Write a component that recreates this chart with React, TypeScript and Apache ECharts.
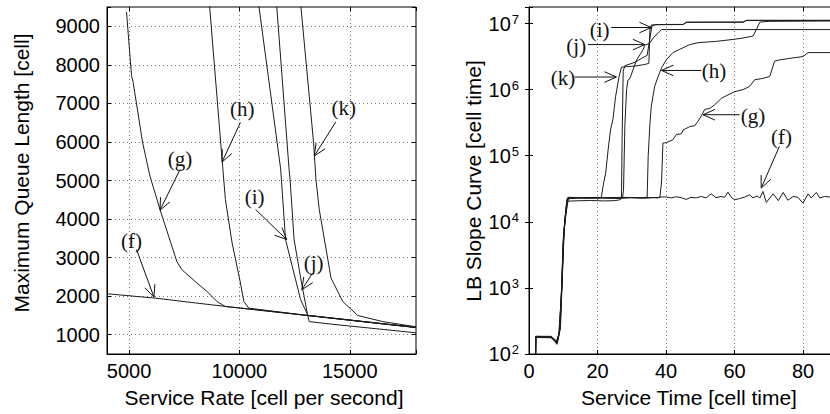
import React, { useEffect, useRef } from 'react';
import * as echarts from 'echarts';

// ---------------- Left panel: Maximum Queue Length vs Service Rate ----------------
const rateMin = 4000;
const rateMax = 18000;
const queueMin = 500;
const queueMax = 9500;

const queueF = [[4000, 2062], [5000, 2010], [6174, 1950], [8000, 1825], [10047, 1689], [12000, 1565], [13087, 1497], [15000, 1375], [18000, 1185]];
const queueG = [[4884, 9370], [5112, 7720], [5185, 7545], [5613, 5984], [5946, 5115], [6402, 4248], [7163, 2902], [7391, 2686], [8074, 2340], [8530, 2122], [8986, 1861], [9364, 1731], [10047, 1693], [13087, 1501], [18000, 1189]];
const queueH = [[8648, 9524], [9213, 5550], [9364, 4508], [9669, 3380], [10047, 2340], [10198, 1861], [10426, 1689], [13087, 1499], [18000, 1187]];
const queueI = [[10882, 9524], [11870, 5289], [11901, 5029], [12090, 3467], [12546, 2426], [12774, 1906], [13056, 1559], [13087, 1505], [15000, 1383], [18000, 1192]];
const queueJ = [[11689, 9524], [12249, 5289], [12294, 5029], [12477, 3467], [12814, 2340], [12932, 1991], [13087, 1515], [13160, 1341], [14150, 1275], [18000, 1050]];
const queueK = [[12782, 9524], [13360, 5984], [13466, 5029], [13617, 4248], [14150, 2470], [14682, 1861], [15366, 1497], [16500, 1340], [18000, 1205]];

// annotation: [labelX, labelY, startX, startY, tipX, tipY]
const leftLabels = ['(f)', '(g)', '(h)', '(k)', '(i)', '(j)'];
const leftArrows = [
  [5112, 3423, 5340, 3207, 6128, 1975],
  [7313, 5549, 7313, 5290, 6402, 4231],
  [10125, 6851, 10047, 6505, 9213, 5479],
  [14728, 6869, 14368, 6520, 13388, 5635],
  [10686, 4579, 10732, 4248, 12144, 3467],
  [13361, 2861, 13315, 2601, 12827, 2166],
];

// ---------------- Right panel: LB Slope Curve vs Service Time ----------------
const timeMin = 0;
const timeMax = 100;
const timeStep = 20;
const timeLabelMax = 80;
const slopeMin = 100;
const slopeMaxExp = 7.25;

const slopeF = [[1.9, 60], [1.95, 185], [6.5, 183], [7.4, 165], [8.2, 150], [9.0, 225], [9.7, 1400], [10.2, 6800], [10.8, 13500], [11.5, 22500], [14, 23000], [18, 22700], [22, 22900], [26, 22600], [30, 23100], [34, 22800], [36, 23300], [37.5, 22900], [38.5, 23800], [40.1, 23700], [41.5, 23000], [43, 24000], [44.4, 23200], [45.9, 21800], [47.3, 23500], [48.8, 23000], [50.3, 24200], [51.7, 23000], [53.2, 26500], [54.6, 23200], [56.1, 24200], [57.1, 23500], [58.1, 28000], [59.1, 23500], [60, 21500], [61.5, 22500], [63, 23700], [64.4, 25600], [65.4, 23000], [66.6, 24600], [67.4, 22900], [68.3, 28800], [69.3, 19700], [71.3, 26500], [72.8, 20900], [74.2, 27800], [75.6, 21200], [77.1, 24200], [78.5, 23500], [80, 19200], [81.5, 26500], [82.4, 22900], [83.9, 27800], [84.9, 22900], [86.3, 24200], [87.8, 23700], [89, 23200], [91, 24500]];
const slopeG = [[1.9, 60], [1.95, 180], [6.5, 180], [7.6, 155], [8.1, 140], [8.6, 190], [9.2, 260], [9.8, 1800], [10.3, 8000], [10.9, 15000], [11.4, 23500], [15, 23200], [20, 23400], [25, 23100], [30, 23300], [35, 23000], [38.2, 23500], [38.7, 40000], [39.1, 155000], [40.1, 158000], [42, 174000], [43, 209000], [44.5, 215000], [45, 245000], [46.9, 275000], [48.4, 285000], [49.3, 331000], [50.3, 398000], [51.3, 501000], [52.8, 520000], [54.2, 589000], [56.2, 741000], [58.1, 832000], [60.1, 933000], [62.5, 1.0e6], [64.4, 1.12e6], [65.9, 1.41e6], [68.3, 1.48e6], [70.3, 1.58e6], [71.7, 2.69e6], [73.2, 2.82e6], [77.1, 3.02e6], [80, 3.16e6], [81.5, 3.63e6], [100, 3.63e6]];
const slopeH = [[1.9, 60], [2.0, 182], [6.6, 178], [7.8, 150], [8.4, 165], [9.1, 240], [9.6, 1100], [10.1, 6000], [10.6, 12500], [11.3, 23000], [16, 23300], [22, 23200], [28, 23400], [32, 23100], [34.5, 23500], [34.8, 100000], [35.3, 300000], [35.7, 560000], [36.7, 1.12e6], [37.7, 1.58e6], [38.7, 2.14e6], [40.1, 2.82e6], [42, 3.63e6], [44, 4.07e6], [46.9, 4.79e6], [49.3, 5.13e6], [54.7, 5.37e6], [59.6, 5.75e6], [62.5, 6.03e6], [65.4, 6.46e6], [66.4, 8.13e6], [67.4, 1.05e7], [70, 1.08e7], [100, 1.1e7]];
const slopeI = [[1.9, 60], [2.0, 178], [6.4, 176], [7.5, 158], [8.3, 145], [8.9, 210], [9.6, 1200], [10.0, 5500], [10.5, 11000], [11.2, 22800], [15, 22900], [20, 23100], [24, 22900], [27.0, 23200], [27.2, 200000], [27.5, 1.9e6], [28, 2.3e6], [31, 2.6e6], [33, 3.0e6], [34.5, 3.3e6], [35.3, 6.0e6], [35.9, 9.2e6], [37, 9.66e6], [45, 9.7e6], [46, 1.05e7], [62.5, 1.05e7], [63.5, 1.12e7], [100, 1.12e7]];
const slopeJ = [[1.9, 60], [2.0, 180], [6.5, 179], [7.5, 160], [8.1, 148], [8.7, 205], [9.4, 700], [9.9, 4000], [10.4, 9500], [11.0, 20500], [14, 20800], [18, 21000], [22, 20700], [25, 20900], [26.5, 21500], [27.3, 23000], [27.6, 30000], [28.0, 300000], [28.5, 1.0e6], [28.9, 1.4e6], [29.4, 1.45e6], [31.4, 2.8e6], [33.3, 4.0e6], [33.8, 4.7e6], [35.2, 5.0e6], [36.2, 6.0e6], [38.2, 7.6e6], [38.7, 8.1e6], [100, 8.1e6]];
const slopeK = [[1.9, 60], [2.0, 185], [6.5, 185], [7.3, 170], [8.0, 158], [8.8, 200], [9.5, 900], [10.0, 4500], [10.5, 10500], [11.1, 22000], [14, 23300], [18, 23000], [21.1, 23200], [21.8, 39000], [22.4, 55000], [23.1, 123000], [23.8, 245000], [24.5, 355000], [25.3, 794000], [26.3, 1.58e6], [27, 2.19e6], [31.4, 2.29e6], [33.8, 2.4e6], [35, 2.5e6], [35.3, 8.0e6], [35.7, 9.5e6], [38, 9.6e6], [45, 9.66e6], [46, 1.04e7], [62.5, 1.05e7], [63.5, 1.11e7], [100, 1.11e7]];

const rightLabels = ['(i)', '(j)', '(k)', '(h)', '(g)', '(f)'];
const rightArrows = [
  [20.6, 8.1e6, 24.0, 8.7e6, 35.7, 8.7e6],
  [13.8, 4.6e6, 17.2, 4.8e6, 33.8, 4.8e6],
  [9.9, 1.5e6, 13.3, 1.55e6, 25.5, 1.55e6],
  [54, 1.9e6, 50.3, 1.95e6, 38.7, 1.95e6],
  [65.4, 4.0e5, 61.5, 4.17e5, 50.8, 4.17e5],
  [73.7, 1.95e5, 73.1, 1.38e5, 67.8, 3.24e4],
];

const SANS = 'Liberation Sans, Arial, Helvetica, sans-serif';
const SERIF = 'Liberation Serif, Times New Roman, serif';
const INK = '#111';

function arrowRenderer(labels: string[]) {
  return (params: any, api: any) => {
    const l = api.coord([api.value(0), api.value(1)]);
    const s = api.coord([api.value(2), api.value(3)]);
    const t = api.coord([api.value(4), api.value(5)]);
    const dx = s[0] - t[0];
    const dy = s[1] - t[1];
    const len = Math.hypot(dx, dy) || 1;
    const ux = dx / len;
    const uy = dy / len;
    const a = 0.42;
    const L = 13;
    const b1 = [t[0] + L * (ux * Math.cos(a) - uy * Math.sin(a)), t[1] + L * (ux * Math.sin(a) + uy * Math.cos(a))];
    const b2 = [t[0] + L * (ux * Math.cos(-a) - uy * Math.sin(-a)), t[1] + L * (ux * Math.sin(-a) + uy * Math.cos(-a))];
    return {
      type: 'group',
      children: [
        { type: 'line', shape: { x1: s[0], y1: s[1], x2: t[0], y2: t[1] }, style: { stroke: INK, lineWidth: 1 } },
        { type: 'polyline', shape: { points: [b1, t, b2] }, style: { stroke: INK, fill: null, lineWidth: 1 } },
        {
          type: 'text',
          x: l[0],
          y: l[1],
          style: { text: labels[params.dataIndex], fontFamily: SERIF, fontSize: 21, fill: INK, align: 'center', verticalAlign: 'middle' },
        },
      ],
    };
  };
}

const dotted = { show: true, lineStyle: { color: '#777', type: [1, 3] as any, width: 1 } };
const axisLineBlack = { show: true, lineStyle: { color: '#000', width: 1 } };
const tickIn = { show: true, inside: true, length: 4, lineStyle: { color: '#000' } };

function lineSeries(data: number[][], xi: number, yi: number) {
  return {
    type: 'line',
    xAxisIndex: xi,
    yAxisIndex: yi,
    data,
    showSymbol: false,
    symbol: 'none',
    clip: true,
    silent: true,
    lineStyle: { color: '#1c1c1c', width: 1 },
  };
}

export default function App() {
  const ref = useRef<HTMLDivElement>(null);
  useEffect(() => {
    if (!ref.current) return;
    const chart = echarts.init(ref.current, undefined, { renderer: 'svg' });
    const option: any = {
      animation: false,
      backgroundColor: '#fff',
      grid: [
        { left: 107, top: 7, width: 309, height: 347, show: true, borderColor: '#000', borderWidth: 1, backgroundColor: 'transparent', containLabel: false, outerBoundsMode: 'none' },
        { left: 529, top: 7, width: 342.5, height: 347, show: true, borderColor: '#000', borderWidth: 1, backgroundColor: 'transparent', containLabel: false, outerBoundsMode: 'none' },
      ],
      xAxis: [
        {
          type: 'value', gridIndex: 0, position: 'bottom', min: rateMin, max: rateMax, splitNumber: 3,
          axisLine: axisLineBlack, axisTick: tickIn, splitLine: dotted,
          axisLabel: { color: '#000', fontFamily: SANS, fontSize: 20, margin: 7, formatter: (v: number) => (v % 5000 === 0 ? String(v) : '') },
        },
        {
          type: 'value', gridIndex: 0, position: 'top', min: rateMin, max: rateMax, splitNumber: 3,
          axisLine: { show: false }, axisTick: tickIn, splitLine: { show: false }, axisLabel: { show: false },
        },
        {
          type: 'value', gridIndex: 1, position: 'bottom', min: timeMin, max: timeMax, interval: timeStep,
          axisLine: axisLineBlack, axisTick: tickIn, splitLine: dotted,
          axisLabel: { color: '#000', fontFamily: SANS, fontSize: 20, margin: 7, formatter: (v: number) => (v <= timeLabelMax ? String(v) : '') },
        },
        {
          type: 'value', gridIndex: 1, position: 'top', min: timeMin, max: timeMax, interval: timeStep,
          axisLine: { show: false }, axisTick: tickIn, splitLine: { show: false }, axisLabel: { show: false },
        },
      ],
      yAxis: [
        {
          type: 'value', gridIndex: 0, position: 'left', min: queueMin, max: queueMax, splitNumber: 9,
          axisLine: axisLineBlack, axisTick: tickIn, splitLine: dotted,
          axisLabel: { color: '#000', fontFamily: SANS, fontSize: 20, margin: 7, formatter: (v: number) => (v % 1000 === 0 ? String(v) : '') },
        },
        {
          type: 'value', gridIndex: 0, position: 'right', min: queueMin, max: queueMax, splitNumber: 9,
          axisLine: { show: false }, axisTick: tickIn, splitLine: { show: false }, axisLabel: { show: false },
        },
        {
          type: 'log', gridIndex: 1, position: 'left', min: slopeMin, max: Math.pow(10, slopeMaxExp), logBase: 10,
          axisLine: axisLineBlack, axisTick: tickIn, splitLine: { show: false },
          axisLabel: {
            color: '#000', margin: 10,
            formatter: (v: number) => {
              const lg = Math.log10(v);
              const e = Math.round(lg);
              if (Math.abs(lg - e) > 1e-6) return '';
              return '{b|10}{e|' + e + '}';
            },
            rich: {
              b: { fontFamily: SANS, fontSize: 20, lineHeight: 22, color: '#000' },
              e: { fontFamily: SANS, fontSize: 13, lineHeight: 14, verticalAlign: 'top', color: '#000', padding: [0, 0, 0, 1] },
            },
          },
        },
        {
          type: 'log', gridIndex: 1, position: 'right', min: slopeMin, max: Math.pow(10, slopeMaxExp), logBase: 10,
          axisLine: { show: false }, axisTick: tickIn, splitLine: { show: false }, axisLabel: { show: false },
        },
      ],
      graphic: [
        { type: 'text', x: 264, y: 397, style: { text: 'Service Rate [cell per second]', fontFamily: SANS, fontSize: 21, fill: '#000', align: 'center', verticalAlign: 'middle' } },
        { type: 'text', x: 689, y: 397, style: { text: 'Service Time [cell time]', fontFamily: SANS, fontSize: 21, fill: '#000', align: 'center', verticalAlign: 'middle' } },
        { type: 'text', x: 21, y: 173, rotation: Math.PI / 2, style: { text: 'Maximum Queue Length [cell]', fontFamily: SANS, fontSize: 21, fill: '#000', align: 'center', verticalAlign: 'middle' } },
        { type: 'text', x: 473, y: 181, rotation: Math.PI / 2, style: { text: 'LB Slope Curve [cell time]', fontFamily: SANS, fontSize: 21, fill: '#000', align: 'center', verticalAlign: 'middle' } },
      ],
      series: [
        lineSeries(queueF, 0, 0),
        lineSeries(queueG, 0, 0),
        lineSeries(queueH, 0, 0),
        lineSeries(queueI, 0, 0),
        lineSeries(queueJ, 0, 0),
        lineSeries(queueK, 0, 0),
        { type: 'custom', xAxisIndex: 0, yAxisIndex: 0, data: leftArrows, renderItem: arrowRenderer(leftLabels), silent: true, z: 5 },
        lineSeries(slopeF, 2, 2),
        lineSeries(slopeG, 2, 2),
        lineSeries(slopeH, 2, 2),
        lineSeries(slopeI, 2, 2),
        lineSeries(slopeJ, 2, 2),
        lineSeries(slopeK, 2, 2),
        { type: 'custom', xAxisIndex: 2, yAxisIndex: 2, data: rightArrows, renderItem: arrowRenderer(rightLabels), silent: true, z: 5 },
      ],
    };
    chart.setOption(option);
    return () => chart.dispose();
  }, []);
  return <div ref={ref} style={{ position: 'absolute', left: 0, top: 0, width: 830, height: 414, background: '#fff' }} />;
}
